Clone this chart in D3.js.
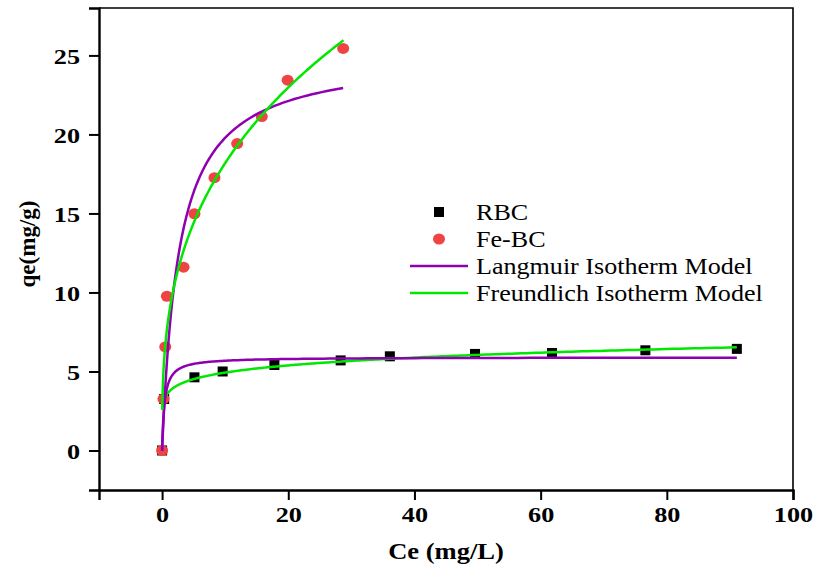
<!DOCTYPE html>
<html>
<head>
<meta charset="utf-8">
<script src="https://cdn.jsdelivr.net/npm/d3@7"></script>
<style>
  html, body { margin: 0; padding: 0; background: #fff; }
  svg { display: block; }
</style>
</head>
<body>
<svg id="chart" width="814" height="570"></svg>
<script>
// Equilibrium data: Ce (mg/L) vs qe (mg/g)
const rbcCe = [0, 0.33, 5.13, 9.6, 17.8, 28.3, 36.1, 49.6, 61.8, 76.6, 91.1];
const rbcQe = [0, 3.26, 4.63, 5.0, 5.41, 5.70, 5.96, 6.11, 6.17, 6.34, 6.43];

const febcCe = [0, 0.22, 0.5, 0.76, 3.4, 5.13, 8.3, 11.9, 15.8, 19.9, 28.7];
const febcQe = [0, 3.26, 6.55, 9.76, 11.6, 14.98, 17.26, 19.42, 21.13, 23.43, 25.44];

// Fitted isotherm parameters
const langmuirRBC = { qm: 5.9, KL: 2.6, from: 0, to: 91.1 };
const langmuirFeBC = { qm: 25.07, KL: 0.3746, from: 0, to: 28.7 };
const freundlichRBC = { KF: 3.68, inv_n: 0.127, from: 0.49, to: 91.1 };
const freundlichFeBC = { KF: 8.37, inv_n: 0.337, from: 0.03, to: 28.75 };

const xTicks = [0, 20, 40, 60, 80, 100];
const yTicks = [0, 5, 10, 15, 20, 25];

const legendItems = [
  { label: "RBC", type: "square" },
  { label: "Fe-BC", type: "circle" },
  { label: "Langmuir Isotherm Model", type: "langmuir" },
  { label: "Freundlich Isotherm Model", type: "freundlich" }
];

const colors = {
  rbc: "#000000",
  febc: "#ef4444",
  langmuir: "#8e00b0",
  freundlich: "#00e800"
};

const svg = d3.select("#chart");
const plot = { left: 99, right: 793, top: 8, bottom: 490 };

const x = d3.scaleLinear().domain([-10, 100]).range([plot.left, plot.right]);
const y = d3.scaleLinear().domain([-2.5, 28]).range([plot.bottom, plot.top]);

// Sample a model curve on a dense grid (log-spaced near zero, where it is steep)
function sampleCurve(fn, from, to) {
  const pts = [];
  const lo = Math.max(from, 1e-4);
  if (from === 0) pts.push([0, 0]);
  const n = 400;
  for (let i = 0; i <= n; i++) {
    const c = lo * Math.pow(to / lo, i / n);
    pts.push([c, fn(c)]);
  }
  return pts;
}
const langmuir = p => c => p.qm * p.KL * c / (1 + p.KL * c);
const freundlich = p => c => p.KF * Math.pow(c, p.inv_n);

const line = d3.line().x(d => x(d[0])).y(d => y(d[1])).curve(d3.curveLinear);

// Frame (top and right)
svg.append("path")
  .attr("d", `M${plot.left},${plot.top}H${plot.right}V${plot.bottom}`)
  .attr("fill", "none").attr("stroke", "#000").attr("stroke-width", 1.6);

// Text in this figure is set slightly wide
const serif = "'Liberation Serif', 'Times New Roman', serif";
const tickStretch = 1.22;

const xAxis = svg.append("g")
  .attr("transform", `translate(0,${plot.bottom})`)
  .call(d3.axisBottom(x).tickValues(xTicks).tickSize(10).tickPadding(7));
const yAxis = svg.append("g")
  .attr("transform", `translate(${plot.left},0)`)
  .call(d3.axisLeft(y).tickValues(yTicks).tickSize(10).tickPadding(8));

[xAxis, yAxis].forEach(g => {
  g.select(".domain").attr("stroke-width", 2.4).attr("stroke", "#000");
  g.selectAll(".tick line").attr("stroke-width", 2).attr("stroke", "#000");
  g.selectAll(".tick text")
    .attr("font-family", serif)
    .attr("font-weight", "bold")
    .attr("font-size", 21.5)
    .attr("fill", "#000");
});
xAxis.selectAll(".tick text")
  .attr("transform", `scale(${tickStretch},1)`);
yAxis.selectAll(".tick text")
  .attr("x", 0)
  .attr("dy", "0.36em")
  .attr("transform", `translate(-19,0) scale(${tickStretch},1)`);

// Axis titles
svg.append("text")
  .attr("transform", "translate(446,559) scale(1.18,1)")
  .attr("text-anchor", "middle")
  .attr("font-family", serif).attr("font-weight", "bold").attr("font-size", 22.5)
  .text("Ce (mg/L)");
svg.append("text")
  .attr("transform", "translate(35,244) rotate(-90)")
  .attr("text-anchor", "middle")
  .attr("font-family", serif).attr("font-weight", "bold").attr("font-size", 23)
  .text("qe(mg/g)");

// Scatter: RBC squares, then Fe-BC circles on top
const sq = 10;
svg.append("g").selectAll("rect")
  .data(d3.zip(rbcCe, rbcQe))
  .join("rect")
  .attr("x", d => x(d[0]) - sq / 2)
  .attr("y", d => y(d[1]) - sq / 2)
  .attr("width", sq).attr("height", sq)
  .attr("fill", colors.rbc);

svg.append("g").selectAll("ellipse")
  .data(d3.zip(febcCe, febcQe))
  .join("ellipse")
  .attr("cx", d => x(d[0]))
  .attr("cy", d => y(d[1]))
  .attr("rx", 6).attr("ry", 5.5)
  .attr("fill", colors.febc);

// Model curves
const curves = [
  { pts: sampleCurve(freundlich(freundlichRBC), freundlichRBC.from, freundlichRBC.to), color: colors.freundlich },
  { pts: sampleCurve(langmuir(langmuirRBC), langmuirRBC.from, langmuirRBC.to), color: colors.langmuir },
  { pts: sampleCurve(langmuir(langmuirFeBC), langmuirFeBC.from, langmuirFeBC.to), color: colors.langmuir },
  { pts: sampleCurve(freundlich(freundlichFeBC), freundlichFeBC.from, freundlichFeBC.to), color: colors.freundlich }
];
svg.append("g").selectAll("path")
  .data(curves)
  .join("path")
  .attr("d", d => line(d.pts))
  .attr("fill", "none")
  .attr("stroke", d => d.color)
  .attr("stroke-width", 2.5);

// Legend
const legend = svg.append("g").attr("transform", "translate(410,212)");
const rowH = 27;
legendItems.forEach((item, i) => {
  const g = legend.append("g").attr("transform", `translate(0,${i * rowH})`);
  if (item.type === "square") {
    g.append("rect").attr("x", 29 - 5).attr("y", -5).attr("width", 10).attr("height", 10).attr("fill", colors.rbc);
  } else if (item.type === "circle") {
    g.append("ellipse").attr("cx", 29).attr("cy", 0).attr("rx", 6).attr("ry", 5.5).attr("fill", colors.febc);
  } else {
    g.append("line").attr("x1", 0).attr("x2", 58).attr("y1", 0).attr("y2", 0)
      .attr("stroke", item.type === "langmuir" ? colors.langmuir : colors.freundlich)
      .attr("stroke-width", 2.5);
  }
  g.append("text")
    .attr("transform", "translate(66,0) scale(1.11,1)")
    .attr("dy", "0.35em")
    .attr("font-family", serif).attr("font-size", 23.5)
    .attr("fill", "#000")
    .text(item.label);
});
</script>
</body>
</html>
